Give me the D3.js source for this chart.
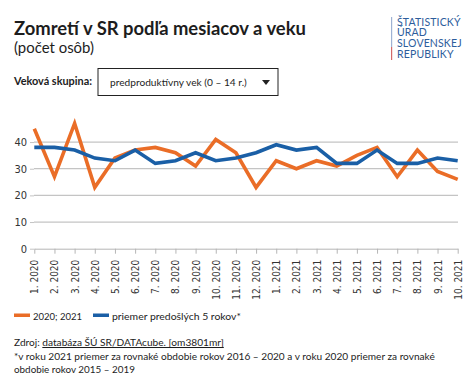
<!DOCTYPE html>
<html>
<head>
<meta charset="utf-8">
<script src="https://cdn.jsdelivr.net/npm/d3@7"></script>
<style>
  body { margin: 0; background: #fff; }
  svg { display: block; }
</style>
</head>
<body>
<div id="chart"></div>
<script>
// months shown on the x axis
var months = ["1. 2020", "2. 2020", "3. 2020", "4. 2020", "5. 2020", "6. 2020", "7. 2020", "8. 2020",
  "9. 2020", "10. 2020", "11. 2020", "12. 2020", "1. 2021", "2. 2021", "3. 2021", "4. 2021",
  "5. 2021", "6. 2021", "7. 2021", "8. 2021", "9. 2021", "10. 2021"];
// deaths 2020; 2021
var actual = [45, 27, 47, 23, 34, 37, 38, 36, 31, 41, 36, 23, 33, 30, 33, 31, 35, 38, 27, 37, 29, 26];
// average of previous 5 years
var average = [38, 38, 37, 34, 33, 37, 32, 33, 36, 33, 34, 36, 39, 37, 38, 32, 32, 37, 32, 32, 34, 33];
var yTicks = [0, 10, 20, 30, 40];
var seriesNames = ["2020; 2021", "priemer predošlých 5 rokov*"];
var colors = ["#ea6d27", "#1a5fa6"];

var W = 474, H = 390;
var font = "Lato, 'Noto Sans', sans-serif";

var svg = d3.select("#chart").append("svg")
    .attr("width", W)
    .attr("height", H)
    .style("font-family", font);

// pick the font size so the text has the width it has in the picture
function fitSize(t, size, len) {
  t.style("font-size", size + "px");
  var w = t.node().getComputedTextLength();
  if (w > 0) t.style("font-size", (size * len / w).toFixed(2) + "px");
  return t;
}

function addText(x0, y0, size, len, txt, bold) {
  var t = svg.append("text").attr("x", x0).attr("y", y0)
      .style("font-weight", bold ? "bold" : "normal")
      .attr("fill", "#1d1d1d")
      .text(txt);
  return fitSize(t, size, len);
}

// title + subtitle
addText(14, 35, 18.5, 292, "Zomretí v SR podľa mesiacov a veku", true);
addText(14, 53, 15, 80, "(počet osôb)");

// logo
var logo = svg.append("g").attr("transform", "translate(391,17)");
logo.append("rect").attr("x", 0).attr("y", 0).attr("width", 1.2).attr("height", 30).attr("fill", "#9fb2d3");
logo.append("rect").attr("x", 0).attr("y", 30).attr("width", 1.2).attr("height", 13).attr("fill", "#d46a6a");
var logoLines = ["ŠTATISTICKÝ", "ÚRAD", "SLOVENSKEJ", "REPUBLIKY"];
logoLines.forEach(function(t, i) {
  logo.append("text").attr("x", 6).attr("y", 8.5 + i * 10.8)
      .style("font-size", "10.5px").style("letter-spacing", "0.15px").attr("fill", "#2d5d9c")
      .text(t);
});

// dropdown
addText(14, 85, 12.5, 78, "Veková skupina:", true);
svg.append("rect").attr("x", 98).attr("y", 68.5).attr("width", 180).attr("height", 27)
    .attr("fill", "#fff").attr("stroke", "#222").attr("stroke-width", 1);
addText(110, 86, 12.5, 137, "predproduktívny vek (0 – 14 r.)");
svg.append("path").attr("d", "M262,80 L270,80 L266,85 Z").attr("fill", "#222");

// chart area
var x = d3.scalePoint().domain(months).range([34.3, 457.7]);
var y = d3.scaleLinear().domain([0, 50]).range([248.7, 115.4]);

var axisFont = "'DejaVu Sans Condensed', 'DejaVu Sans', sans-serif";

// gridlines
svg.append("g").selectAll("line").data(yTicks.slice(1)).enter().append("line")
    .attr("x1", 34).attr("x2", 458)
    .attr("y1", function(d) { return y(d); }).attr("y2", function(d) { return y(d); })
    .attr("stroke", "#c4c4c4").attr("stroke-width", 1.3);

var yAxis = svg.append("g").attr("transform", "translate(34,0)")
    .call(d3.axisLeft(y).tickValues(yTicks).tickSize(4).tickPadding(3));
yAxis.select(".domain").remove();
yAxis.selectAll("line").attr("stroke", "#c4c4c4");
yAxis.selectAll("text").style("font-family", axisFont).style("font-size", "11px").attr("fill", "#333");

var xAxis = svg.append("g").attr("transform", "translate(0,248.7)")
    .call(d3.axisBottom(x).tickSize(5).tickSizeOuter(0));
xAxis.select(".domain").attr("stroke", "#b5b5b5");
xAxis.selectAll("line").attr("stroke", "#b5b5b5");
xAxis.selectAll("text")
    .style("font-family", axisFont).style("font-size", "10px").attr("fill", "#333")
    .attr("transform", "rotate(-90)")
    .attr("text-anchor", "end")
    .attr("x", -11).attr("y", 0).attr("dy", "0.35em");

// lines
var line = d3.line()
    .x(function(d, i) { return x(months[i]); })
    .y(function(d) { return y(d); });

[actual, average].forEach(function(vals, k) {
  svg.append("path").datum(vals)
      .attr("d", line)
      .attr("fill", "none")
      .attr("stroke", colors[k])
      .attr("stroke-width", 3.6)
      .attr("stroke-linejoin", "miter");
});

// legend
var legX = [14, 93];
var legW = [49, 129];
seriesNames.forEach(function(n, i) {
  svg.append("rect").attr("x", legX[i]).attr("y", 313.5).attr("width", 16).attr("height", 3.5).attr("fill", colors[i]);
  addText(legX[i] + 19, 320, 12.5, legW[i], n);
});

// source and footnote
var src = svg.append("text").attr("x", 14).attr("y", 346).attr("fill", "#1d1d1d");
src.append("tspan").text("Zdroj: ");
src.append("tspan").style("text-decoration", "underline").text("databáza ŠÚ SR/DATAcube. [om3801mr]");
fitSize(src, 12.5, 210);
addText(14, 360, 12.5, 421, "*v roku 2021 priemer za rovnaké obdobie rokov 2016 – 2020 a v roku 2020 priemer za rovnaké");
addText(14, 373, 12.5, 121, "obdobie rokov 2015 – 2019");
</script>
</body>
</html>
